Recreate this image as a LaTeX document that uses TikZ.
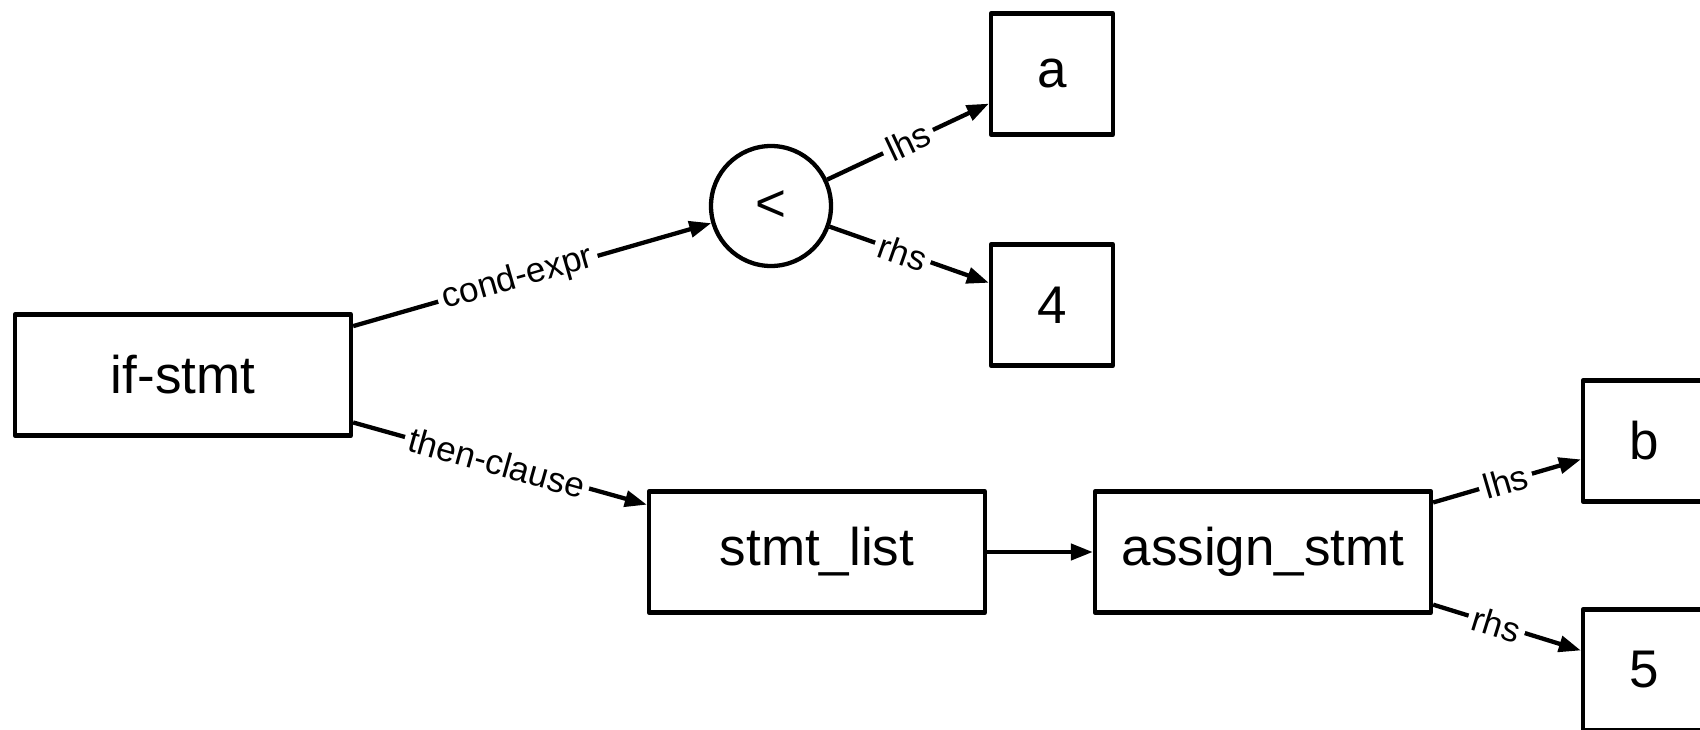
\documentclass[tikz,border=0pt]{standalone}
\usepackage{fontspec}
\setmainfont{Liberation Sans}
\usetikzlibrary{arrows.meta}
\begin{document}
\begin{tikzpicture}[x=1pt,y=-1pt,
  box/.style={draw, line width=4.3pt, line join=round, minimum width=#1, minimum height=121pt, inner sep=0pt, font=\fontsize{53}{60}\selectfont},
  box/.default=122pt,
  opnode/.style={draw, circle, line width=4.3pt, minimum size=120pt, inner sep=0pt, font=\fontsize{53}{60}\selectfont},
  edge/.style={line width=4.3pt, -{Triangle[length=22pt,width=16pt]}},
  lbl/.style={sloped, fill=white, inner sep=5pt, font=\fontsize{35}{40}\selectfont}
]
\useasboundingbox (0,0) rectangle (1700,730);
\node[box=336pt] (if) at (183,375) {if-stmt};
\node[opnode] (lt) at (771,206) {<};
\node[box] (a) at (1052,74) {a};
\node[box] (four) at (1052,305) {4};
\node[box=336pt] (sl) at (817,552) {stmt\_list};
\node[box=336pt] (as) at (1263,552) {assign\_stmt};
\node[box] (b) at (1644,441) {b};
\node[box] (five) at (1644,670) {5};
\draw[edge] (if) -- node[lbl, pos=0.46] {cond-expr} (lt);
\draw[edge] (if) -- node[lbl, pos=0.49] {then-clause} (sl);
\draw[edge] (lt) -- node[lbl, pos=0.5] {lhs} (a);
\draw[edge] (lt) -- node[lbl, pos=0.46] {rhs} (four);
\draw[edge] (sl) -- (as);
\draw[edge] (as) -- node[lbl, pos=0.49] {lhs} (b);
\draw[edge] (as) -- node[lbl, pos=0.43] {rhs} (five);
\end{tikzpicture}
\end{document}
